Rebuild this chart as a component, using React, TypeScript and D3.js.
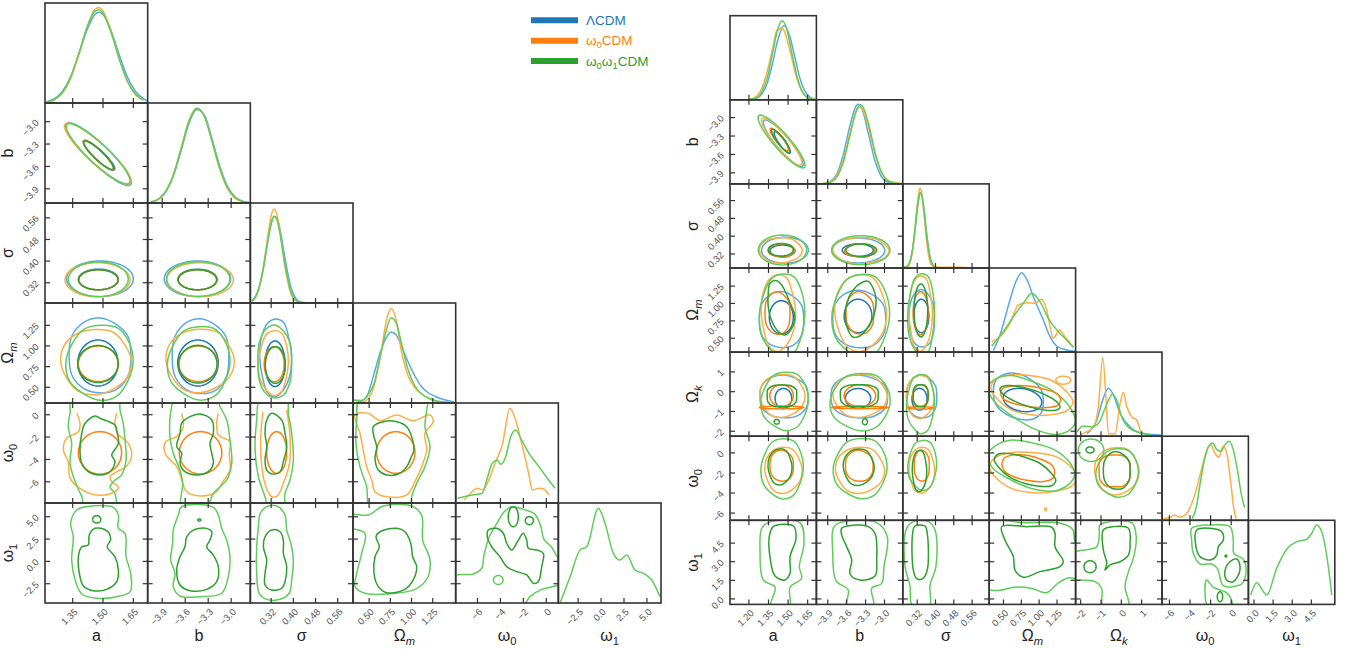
import React from "react";
import * as d3 from "d3";

type Pt = [number, number];
type Ell = [number, number, number, number, number]; // cx, cy, half-width x, half-width y, rho
interface Contour { r: number; c: number; m: number; lv: number; e?: Ell; w?: number[]; pts?: Pt[]; open?: boolean }
interface Marginal { p: number; m: number; pts: Pt[] }

// ---------- models ----------
const MODEL_NAMES = ["ΛCDM", "ω0CDM", "ω0ω1CDM"];
const DARK = ["#1f77b4", "#ff7f0e", "#2ca02c"];
const LIGHT = ["#58a8e6", "#ffae46", "#5fcd59"];

// ---------- left corner plot ----------
const leftParams = ["a", "b", "σ", "Ωm", "ω0", "ω1"];
const leftRanges: Pt[] = [[1.213, 1.721], [-4.09, -2.75], [0.245, 0.615], [0.31, 1.52], [-7.9, 1.05], [-4.66, 6.54]];
const leftTicks = [[1.35, 1.5, 1.65], [-3.9, -3.6, -3.3, -3.0], [0.32, 0.4, 0.48, 0.56], [0.5, 0.75, 1.0, 1.25], [-6, -4, -2, 0], [-2.5, 0, 2.5, 5.0]];
const leftFormats = [".2f", ".1f", ".2f", ".2f", "d", ".1f"];

const leftMarginals: Marginal[] = [
  { p: 0, m: 0, pts: [[1.22, 0.013], [1.26, 0.043], [1.3, 0.118], [1.34, 0.264], [1.38, 0.484], [1.42, 0.725], [1.46, 0.885], [1.48, 0.907], [1.5, 0.885], [1.54, 0.725], [1.58, 0.484], [1.62, 0.264], [1.66, 0.118], [1.7, 0.043], [1.72, 0.02]] },
  { p: 0, m: 1, pts: [[1.22, 0.008], [1.26, 0.032], [1.3, 0.099], [1.34, 0.245], [1.38, 0.483], [1.42, 0.755], [1.46, 0.938], [1.48, 0.956], [1.5, 0.92], [1.54, 0.718], [1.58, 0.443], [1.62, 0.217], [1.66, 0.085], [1.7, 0.026]] },
  { p: 0, m: 2, pts: [[1.22, 0.01], [1.26, 0.037], [1.3, 0.109], [1.34, 0.259], [1.38, 0.493], [1.42, 0.75], [1.46, 0.916], [1.48, 0.932], [1.5, 0.897], [1.54, 0.704], [1.58, 0.443], [1.62, 0.223], [1.66, 0.091], [1.7, 0.029]] },
  { p: 1, m: 0, pts: [[-4.05, 0.009], [-3.95, 0.036], [-3.85, 0.115], [-3.75, 0.28], [-3.65, 0.535], [-3.55, 0.8], [-3.45, 0.935], [-3.35, 0.88], [-3.25, 0.64], [-3.15, 0.37], [-3.05, 0.168], [-2.95, 0.06], [-2.85, 0.018], [-2.77, 0.006]] },
  { p: 1, m: 1, pts: [[-4.05, 0.008], [-3.95, 0.036], [-3.85, 0.118], [-3.75, 0.29], [-3.65, 0.56], [-3.55, 0.83], [-3.45, 0.95], [-3.35, 0.87], [-3.25, 0.615], [-3.15, 0.34], [-3.05, 0.145], [-2.95, 0.048], [-2.85, 0.012], [-2.77, 0.004]] },
  { p: 1, m: 2, pts: [[-4.05, 0.01], [-3.95, 0.04], [-3.85, 0.123], [-3.75, 0.293], [-3.65, 0.55], [-3.55, 0.815], [-3.45, 0.945], [-3.35, 0.865], [-3.25, 0.62], [-3.15, 0.352], [-3.05, 0.158], [-2.95, 0.056], [-2.85, 0.016], [-2.77, 0.005]] },
  { p: 2, m: 0, pts: [[0.25, 0.022], [0.27, 0.104], [0.29, 0.319], [0.31, 0.648], [0.32, 0.789], [0.33, 0.866], [0.34, 0.857], [0.35, 0.763], [0.37, 0.445], [0.39, 0.17], [0.41, 0.044], [0.43, 0.007], [0.47, 0], [0.55, 0], [0.61, 0]] },
  { p: 2, m: 1, pts: [[0.25, 0.014], [0.27, 0.087], [0.29, 0.323], [0.31, 0.71], [0.32, 0.87], [0.33, 0.939], [0.34, 0.893], [0.35, 0.746], [0.37, 0.357], [0.39, 0.1], [0.41, 0.018], [0.43, 0.002], [0.47, 0], [0.55, 0], [0.61, 0]] },
  { p: 2, m: 2, pts: [[0.25, 0.018], [0.27, 0.097], [0.29, 0.318], [0.31, 0.661], [0.32, 0.8], [0.33, 0.868], [0.34, 0.839], [0.35, 0.722], [0.37, 0.383], [0.39, 0.127], [0.41, 0.027], [0.43, 0.003], [0.47, 0], [0.55, 0], [0.61, 0]] },
  { p: 3, m: 0, pts: [[0.32, 0.003], [0.4, 0.015], [0.48, 0.08], [0.56, 0.3], [0.64, 0.53], [0.7, 0.65], [0.76, 0.71], [0.82, 0.68], [0.88, 0.57], [0.96, 0.41], [1.04, 0.27], [1.12, 0.16], [1.2, 0.1], [1.28, 0.065], [1.36, 0.04], [1.44, 0.022], [1.5, 0.012]] },
  { p: 3, m: 1, pts: [[0.32, 0.003], [0.4, 0.004], [0.48, 0.035], [0.56, 0.174], [0.64, 0.51], [0.7, 0.81], [0.76, 0.947], [0.82, 0.82], [0.88, 0.52], [0.96, 0.27], [1.04, 0.15], [1.12, 0.09], [1.2, 0.045], [1.28, 0.018], [1.36, 0.008], [1.44, 0.004], [1.5, 0.002]] },
  { p: 3, m: 2, pts: [[0.32, 0.03], [0.4, 0.025], [0.48, 0.07], [0.56, 0.2], [0.64, 0.5], [0.7, 0.72], [0.76, 0.853], [0.82, 0.8], [0.88, 0.6], [0.96, 0.33], [1.04, 0.17], [1.12, 0.09], [1.2, 0.05], [1.28, 0.025], [1.36, 0.012], [1.44, 0.006], [1.5, 0.003]] },
  { p: 4, m: 1, pts: [[-7.18, 0.03], [-6.74, 0.08], [-6.02, 0.147], [-5.58, 0.13], [-5.15, 0.197], [-4.41, 0.413], [-3.84, 0.58], [-3.17, 0.947], [-2.67, 0.83], [-2.15, 0.597], [-1.51, 0.28], [-1.23, 0.13], [-0.64, 0.147], [-0.2, 0.137], [0.23, 0.08]] },
  { p: 4, m: 2, pts: [[-7.76, 0.047], [-6.45, 0.08], [-5.58, 0.097], [-5.15, 0.247], [-4.71, 0.397], [-4.27, 0.43], [-3.98, 0.387], [-3.54, 0.463], [-3.1, 0.663], [-2.67, 0.73], [-2.23, 0.647], [-1.51, 0.497], [-0.64, 0.363], [0.09, 0.247], [0.76, 0.147]] },
  { p: 5, m: 2, pts: [[-4.47, 0], [-3.38, 0.263], [-2.29, 0.53], [-1.56, 0.563], [-0.3, 0.947], [0.43, 0.797], [1.34, 0.497], [2.07, 0.43], [2.8, 0.48], [3.7, 0.33], [4.61, 0.297], [5.52, 0.23], [6.43, 0.063]] },
];

const wA = [1.0, 1.04, 0.98, 1.0, 1.03, 1.05, 1.0, 1.04, 1.0, 0.97, 1.03, 1.05];
const wB = [1.03, 0.98, 1.02, 0.97, 1.0, 1.04, 1.02, 0.98, 1.03, 1.0, 0.97, 1.02];
const wC = [1.0, 1.02, 1.05, 0.98, 1.0, 0.97, 1.03, 1.05, 0.98, 1.02, 1.04, 0.98];

const leftContours: Contour[] = [
  // b vs a
  { r: 1, c: 0, m: 0, lv: 1, e: [1.478, -3.435, 0.163, 0.42, -0.9] },
  { r: 1, c: 0, m: 1, lv: 1, e: [1.474, -3.43, 0.165, 0.41, -0.9] },
  { r: 1, c: 0, m: 2, lv: 1, e: [1.476, -3.43, 0.158, 0.405, -0.9] },
  { r: 1, c: 0, m: 0, lv: 0, e: [1.48, -3.45, 0.078, 0.2, -0.9] },
  { r: 1, c: 0, m: 1, lv: 0, e: [1.478, -3.45, 0.075, 0.195, -0.9] },
  { r: 1, c: 0, m: 2, lv: 0, e: [1.478, -3.45, 0.073, 0.19, -0.9] },
  // sigma vs a, b
  { r: 2, c: 0, m: 0, lv: 1, e: [1.485, 0.3345, 0.165, 0.066, 0] },
  { r: 2, c: 0, m: 1, lv: 1, e: [1.473, 0.331, 0.161, 0.063, 0] },
  { r: 2, c: 0, m: 2, lv: 1, e: [1.477, 0.333, 0.148, 0.064, 0] },
  { r: 2, c: 0, m: 0, lv: 0, e: [1.477, 0.332, 0.099, 0.038, 0] },
  { r: 2, c: 0, m: 1, lv: 0, e: [1.477, 0.331, 0.098, 0.037, 0] },
  { r: 2, c: 0, m: 2, lv: 0, e: [1.477, 0.331, 0.097, 0.037, 0] },
  { r: 2, c: 1, m: 0, lv: 1, e: [-3.44, 0.3345, 0.433, 0.066, 0] },
  { r: 2, c: 1, m: 1, lv: 1, e: [-3.407, 0.331, 0.435, 0.063, 0] },
  { r: 2, c: 1, m: 2, lv: 1, e: [-3.43, 0.334, 0.413, 0.064, 0] },
  { r: 2, c: 1, m: 0, lv: 0, e: [-3.44, 0.332, 0.255, 0.038, 0] },
  { r: 2, c: 1, m: 1, lv: 0, e: [-3.44, 0.331, 0.252, 0.037, 0] },
  { r: 2, c: 1, m: 2, lv: 0, e: [-3.44, 0.331, 0.25, 0.037, 0] },
  // Omega_m vs a, b, sigma
  { r: 3, c: 0, m: 0, lv: 1, e: [1.485, 0.879, 0.153, 0.46, 0], w: wA },
  { r: 3, c: 0, m: 1, lv: 1, e: [1.465, 0.81, 0.171, 0.4, 0], w: wB },
  { r: 3, c: 0, m: 2, lv: 1, e: [1.485, 0.806, 0.164, 0.454, 0], w: wC },
  { r: 3, c: 0, m: 0, lv: 0, e: [1.475, 0.794, 0.1, 0.278, 0] },
  { r: 3, c: 0, m: 1, lv: 0, e: [1.477, 0.785, 0.099, 0.216, 0] },
  { r: 3, c: 0, m: 2, lv: 0, e: [1.475, 0.782, 0.1, 0.224, 0] },
  { r: 3, c: 1, m: 0, lv: 1, e: [-3.4, 0.87, 0.37, 0.46, 0], w: wA },
  { r: 3, c: 1, m: 1, lv: 1, e: [-3.407, 0.825, 0.435, 0.39, 0], w: wB },
  { r: 3, c: 1, m: 2, lv: 1, e: [-3.418, 0.798, 0.402, 0.444, 0], w: wC },
  { r: 3, c: 1, m: 0, lv: 0, e: [-3.433, 0.794, 0.265, 0.278, 0] },
  { r: 3, c: 1, m: 1, lv: 0, e: [-3.43, 0.785, 0.255, 0.216, 0] },
  { r: 3, c: 1, m: 2, lv: 0, e: [-3.435, 0.78, 0.25, 0.228, 0] },
  { r: 3, c: 2, m: 0, lv: 1, e: [0.336, 0.864, 0.056, 0.478, 0], w: wB },
  { r: 3, c: 2, m: 1, lv: 1, e: [0.329, 0.8, 0.053, 0.393, 0], w: wC },
  { r: 3, c: 2, m: 2, lv: 1, e: [0.333, 0.806, 0.061, 0.448, 0], w: wA },
  { r: 3, c: 2, m: 0, lv: 0, e: [0.334, 0.785, 0.036, 0.276, 0] },
  { r: 3, c: 2, m: 1, lv: 0, e: [0.331, 0.78, 0.036, 0.212, 0] },
  { r: 3, c: 2, m: 2, lv: 0, e: [0.335, 0.77, 0.036, 0.222, 0] },
  // omega_0 row
  { r: 4, c: 0, m: 1, lv: 0, e: [1.485, -3.41, 0.107, 1.9, 0] },
  { r: 4, c: 0, m: 2, lv: 0, pts: [[1.46, -0.11], [1.485, -0.32], [1.559, -0.92], [1.571, -1.66], [1.576, -2.56], [1.551, -3.31], [1.543, -3.6], [1.559, -4.2], [1.535, -5.1], [1.485, -5.39], [1.427, -5.1], [1.395, -4.35], [1.386, -3.16], [1.395, -1.66], [1.411, -0.76]] },
  { r: 4, c: 0, m: 1, lv: 1, open: true, pts: [[1.37, 0.13], [1.386, -0.76], [1.378, -1.52], [1.32, -2.11], [1.304, -3.16], [1.328, -4.2], [1.337, -5.69], [1.386, -6.58], [1.469, -7.18], [1.543, -7.03], [1.576, -6.49], [1.543, -5.99], [1.535, -5.55], [1.568, -5.1], [1.614, -4.65], [1.642, -3.6], [1.625, -2.56], [1.571, -1.66], [1.559, -0.76], [1.568, 0.13]] },
  { r: 4, c: 0, m: 2, lv: 1, pts: [[1.345, 1.32], [1.337, 0.13], [1.328, -1.07], [1.345, -2.56], [1.337, -4.35], [1.362, -5.99], [1.395, -7.34], [1.411, -8.23], [1.559, -8.23], [1.559, -7.03], [1.535, -6.49], [1.551, -5.99], [1.592, -5.39], [1.614, -4.05], [1.609, -2.26], [1.6, -0.76], [1.584, 0.43], [1.576, 1.32]] },
  { r: 4, c: 1, m: 1, lv: 0, e: [-3.4, -3.41, 0.277, 1.9, 0] },
  { r: 4, c: 1, m: 2, lv: 0, pts: [[-3.407, 0.07], [-3.254, -0.47], [-3.233, -1.66], [-3.277, -2.56], [-3.254, -3.45], [-3.233, -4.35], [-3.299, -5.1], [-3.45, -5.39], [-3.603, -5.1], [-3.668, -4.35], [-3.646, -3.45], [-3.711, -2.86], [-3.668, -1.66], [-3.646, -0.76], [-3.538, -0.17]] },
  { r: 4, c: 1, m: 1, lv: 1, open: true, pts: [[-3.646, 0.13], [-3.625, -1.07], [-3.711, -1.96], [-3.855, -2.41], [-3.864, -3.45], [-3.711, -4.65], [-3.646, -5.84], [-3.581, -6.89], [-3.385, -7.27], [-3.189, -6.89], [-3.124, -6.14], [-3.016, -4.95], [-3.025, -3.45], [-3.016, -2.41], [-3.168, -1.81], [-3.189, -0.76], [-3.168, 0.13]] },
  { r: 4, c: 1, m: 2, lv: 1, pts: [[-3.734, 1.32], [-3.79, 0.17], [-3.799, -1.96], [-3.756, -3.45], [-3.668, -4.95], [-3.633, -6.14], [-3.646, -8.23], [-3.32, -8.23], [-3.233, -7.03], [-3.059, -5.84], [-2.993, -4.35], [-3.016, -2.26], [-3.059, -0.47], [-3.146, 0.72], [-3.189, 1.32]] },
  { r: 4, c: 2, m: 1, lv: 0, e: [0.34, -3.38, 0.036, 1.86, 0] },
  { r: 4, c: 2, m: 2, lv: 0, pts: [[0.322, 0.13], [0.358, -0.47], [0.37, -1.66], [0.376, -2.86], [0.364, -4.2], [0.352, -5.1], [0.322, -5.3], [0.304, -4.95], [0.298, -4.05], [0.304, -2.86], [0.298, -1.66], [0.304, -0.47]] },
  { r: 4, c: 2, m: 1, lv: 1, open: true, pts: [[0.29, 0.27], [0.282, -2.56], [0.294, -5.84], [0.322, -7.34], [0.342, -7.27], [0.364, -6.14], [0.386, -4.35], [0.388, -1.96], [0.376, 0.43]] },
  { r: 4, c: 2, m: 2, lv: 1, pts: [[0.28, 1.32], [0.268, -0.47], [0.262, -3.16], [0.274, -5.55], [0.298, -7.34], [0.31, -8.23], [0.364, -8.23], [0.37, -7.03], [0.388, -5.84], [0.4, -4.05], [0.394, -1.66], [0.382, 0.13], [0.376, 1.32]] },
  { r: 4, c: 3, m: 1, lv: 0, e: [0.814, -3.38, 0.226, 1.86, 0] },
  { r: 4, c: 3, m: 2, lv: 0, pts: [[0.549, -1.07], [0.667, -0.62], [0.825, -0.62], [0.943, -1.07], [1.001, -1.96], [1.028, -3.16], [0.99, -3.9], [0.943, -4.65], [0.864, -5.24], [0.707, -5.39], [0.608, -4.95], [0.569, -3.9], [0.589, -2.86], [0.557, -1.96]] },
  { r: 4, c: 3, m: 1, lv: 1, pts: [[0.334, -0.02], [0.49, 0.13], [0.628, -0.53], [0.825, -0.02], [1.02, -0.53], [1.217, -0.02], [1.256, -0.62], [1.158, -1.66], [1.178, -3.16], [1.119, -4.65], [1.04, -5.99], [0.943, -7.18], [0.707, -7.34], [0.569, -6.89], [0.53, -5.84], [0.471, -4.65], [0.431, -3.16], [0.392, -1.66]] },
  { r: 4, c: 3, m: 2, lv: 1, pts: [[0.392, 1.32], [0.354, -0.47], [0.345, -2.56], [0.392, -4.65], [0.471, -6.44], [0.51, -8.23], [0.981, -8.23], [1.001, -7.34], [1.06, -6.14], [1.158, -4.65], [1.217, -2.86], [1.158, -1.07], [1.178, 0.43], [1.178, 1.32]] },
  // omega_1 row
  { r: 5, c: 0, m: 2, lv: 0, pts: [[1.46, 3.71], [1.518, 3.44], [1.538, 2.47], [1.521, 1.64], [1.559, 0.52], [1.576, -0.96], [1.568, -2.27], [1.518, -3.13], [1.452, -3.28], [1.403, -2.76], [1.383, -1.33], [1.378, 0.52], [1.395, 1.64], [1.427, 1.83], [1.432, 2.95]] },
  { r: 5, c: 0, m: 2, lv: 0, e: [1.469, 4.71, 0.02, 0.41, 0] },
  { r: 5, c: 0, m: 2, lv: 1, pts: [[1.419, 6.12], [1.551, 6.06], [1.576, 5.19], [1.576, 3.71], [1.609, 3.14], [1.614, 0.52], [1.637, -1.33], [1.634, -3.39], [1.568, -3.95], [1.469, -4.13], [1.395, -3.65], [1.362, -2.08], [1.345, 0.16], [1.353, 2.76], [1.34, 4.27], [1.37, 5.75]] },
  { r: 5, c: 1, m: 2, lv: 0, pts: [[-3.495, 3.51], [-3.32, 3.7], [-3.254, 3.32], [-3.277, 2.39], [-3.32, 1.64], [-3.233, 0.71], [-3.168, -0.59], [-3.189, -2.27], [-3.32, -3.13], [-3.538, -3.28], [-3.668, -2.64], [-3.711, -0.96], [-3.668, 0.52], [-3.603, 1.64], [-3.581, 2.76]] },
  { r: 5, c: 1, m: 2, lv: 0, e: [-3.416, 4.63, 0.02, 0.12, 0] },
  { r: 5, c: 1, m: 2, lv: 1, pts: [[-3.646, 6.12], [-3.233, 6.06], [-3.168, 5.19], [-3.124, 3.71], [-3.059, 2.39], [-3.016, 0.52], [-3.038, -1.71], [-3.124, -3.57], [-3.407, -3.95], [-3.668, -3.88], [-3.756, -2.83], [-3.734, -1.33], [-3.79, 0.16], [-3.764, 2.03], [-3.756, 3.51], [-3.69, 5.19]] },
  { r: 5, c: 2, m: 2, lv: 0, pts: [[0.322, 3.51], [0.352, 3.32], [0.364, 2.39], [0.364, 0.9], [0.376, -0.59], [0.37, -2.27], [0.358, -3.01], [0.322, -3.2], [0.298, -2.64], [0.298, -1.33], [0.304, 0.16], [0.292, 1.64], [0.298, 2.76]] },
  { r: 5, c: 2, m: 2, lv: 1, pts: [[0.31, 6.2], [0.346, 6.12], [0.37, 5.19], [0.376, 3.51], [0.391, 2.03], [0.4, 0.16], [0.394, -2.08], [0.385, -3.57], [0.352, -4.25], [0.304, -4.25], [0.277, -3.57], [0.268, -1.33], [0.268, 1.64], [0.274, 3.88], [0.282, 5.45]] },
  { r: 5, c: 3, m: 2, lv: 0, pts: [[0.628, 3.32], [0.825, 3.7], [0.922, 3.32], [0.99, 2.03], [1.013, 0.52], [1.06, -0.59], [1.02, -2.08], [0.922, -3.13], [0.707, -3.51], [0.608, -2.83], [0.557, -1.33], [0.569, 0.52], [0.62, 1.64], [0.581, 2.76]] },
  { r: 5, c: 3, m: 2, lv: 1, pts: [[0.275, 5.19], [0.49, 5.19], [0.667, 6.2], [1.001, 6.2], [1.119, 5.19], [1.131, 2.39], [1.217, 0.16], [1.185, -1.89], [1.04, -3.13], [0.707, -3.65], [0.451, -3.57], [0.334, -2.83], [0.354, -1.33], [0.412, 0.9], [0.451, 3.14], [0.275, 3.88]] },
  { r: 5, c: 4, m: 2, lv: 0, pts: [[-5.06, 3.51], [-4.33, 3.7], [-3.75, 3.15], [-3.45, 2.03], [-3.02, 1.27], [-2.44, 2.39], [-2.01, 3.15], [-1.71, 2.39], [-1.57, 1.47], [-0.84, 1.27], [-0.26, 0.91], [-0.4, -0.59], [-0.7, -2.27], [-1.13, -2.45], [-1.71, -1.52], [-2.58, -1.15], [-3.45, -0.59], [-4.04, 0.52], [-4.76, 1.64], [-5.14, 2.76]] },
  { r: 5, c: 4, m: 2, lv: 0, e: [-2.88, 5.0, 0.44, 1.12, 0] },
  { r: 5, c: 4, m: 2, lv: 0, e: [-1.48, 4.56, 0.35, 0.45, 0] },
  { r: 5, c: 4, m: 2, lv: 1, pts: [[-8.11, -1.71], [-6.37, -1.41], [-5.63, -0.77], [-5.43, 0.72], [-4.97, 2.76], [-4.27, 4.33], [-3.69, 5.53], [-3.02, 6.12], [-2.01, 5.83], [-0.99, 5.27], [-0.49, 3.96], [-0.2, 2.47], [0.47, 1.58], [0.96, 0.52], [1.63, -0.21], [1.63, -2.27], [0.76, -2.76], [-0.4, -3.13], [-1.42, -3.95], [-2.15, -5.07], [-8.11, -5.81]] },
  { r: 5, c: 4, m: 2, lv: 1, e: [-4.19, -2.08, 0.42, 0.5, 0] },
];

// ---------- right corner plot ----------
const rightParams = ["a", "b", "σ", "Ωm", "Ωk", "ω0", "ω1"];
const rightRanges: Pt[] = [[1.055, 1.717], [-4.08, -2.71], [0.257, 0.635], [0.3, 1.51], [-2.25, 2.0], [-6.72, 1.67], [-0.44, 6.34]];
const rightTicks = [[1.2, 1.35, 1.5, 1.65], [-3.9, -3.6, -3.3, -3.0], [0.32, 0.4, 0.48, 0.56], [0.5, 0.75, 1.0, 1.25], [-2, -1, 0, 1], [-6, -4, -2, 0], [0, 1.5, 3.0, 4.5]];
const rightFormats = [".2f", ".1f", ".2f", ".2f", "d", "d", ".1f"];

const rightMarginals: Marginal[] = [
  { p: 0, m: 0, pts: [[1.2, 0], [1.26, 0.02], [1.3, 0.07], [1.34, 0.197], [1.38, 0.428], [1.42, 0.704], [1.47, 0.88], [1.51, 0.77], [1.55, 0.52], [1.59, 0.26], [1.63, 0.1], [1.67, 0.03], [1.71, 0.005]] },
  { p: 0, m: 1, pts: [[1.2, 0.004], [1.26, 0.045], [1.3, 0.14], [1.34, 0.34], [1.38, 0.6], [1.413, 0.82], [1.43, 0.835], [1.451, 0.86], [1.48, 0.78], [1.52, 0.55], [1.56, 0.29], [1.6, 0.12], [1.64, 0.04], [1.68, 0.01], [1.71, 0.003]] },
  { p: 0, m: 2, pts: [[1.2, 0.002], [1.26, 0.025], [1.3, 0.1], [1.34, 0.261], [1.38, 0.545], [1.42, 0.835], [1.455, 0.94], [1.49, 0.84], [1.53, 0.55], [1.57, 0.27], [1.61, 0.095], [1.65, 0.025], [1.7, 0.004]] },
  { p: 1, m: 0, pts: [[-4.05, 0.001], [-3.95, 0.006], [-3.85, 0.034], [-3.75, 0.13], [-3.65, 0.36], [-3.55, 0.687], [-3.45, 0.927], [-3.416, 0.946], [-3.35, 0.876], [-3.25, 0.58], [-3.15, 0.272], [-3.05, 0.088], [-2.95, 0.02], [-2.85, 0.003], [-2.75, 0]] },
  { p: 1, m: 1, pts: [[-4.05, 0.001], [-3.95, 0.005], [-3.85, 0.029], [-3.75, 0.109], [-3.65, 0.3], [-3.55, 0.6], [-3.45, 0.86], [-3.39, 0.91], [-3.35, 0.886], [-3.25, 0.661], [-3.15, 0.356], [-3.05, 0.137], [-2.95, 0.045], [-2.85, 0.02], [-2.75, 0.008]] },
  { p: 1, m: 2, pts: [[-4.05, 0], [-3.95, 0.004], [-3.85, 0.021], [-3.75, 0.087], [-3.65, 0.266], [-3.55, 0.57], [-3.45, 0.864], [-3.38, 0.94], [-3.35, 0.925], [-3.25, 0.704], [-3.15, 0.377], [-3.05, 0.142], [-2.95, 0.038], [-2.85, 0.008], [-2.75, 0.001]] },
  { p: 2, m: 0, pts: [[0.26, 0.002], [0.28, 0.029], [0.3, 0.223], [0.31, 0.441], [0.32, 0.696], [0.33, 0.872], [0.335, 0.897], [0.34, 0.872], [0.35, 0.696], [0.36, 0.441], [0.38, 0.091], [0.4, 0.007], [0.42, 0], [0.62, 0]] },
  { p: 2, m: 1, pts: [[0.26, 0], [0.28, 0.019], [0.3, 0.208], [0.31, 0.455], [0.32, 0.749], [0.33, 0.935], [0.333, 0.947], [0.34, 0.885], [0.35, 0.637], [0.36, 0.346], [0.38, 0.045], [0.4, 0.012], [0.45, 0.008], [0.5, 0.008], [0.53, 0.006], [0.56, 0], [0.62, 0]] },
  { p: 2, m: 2, pts: [[0.26, 0.002], [0.28, 0.03], [0.3, 0.235], [0.31, 0.455], [0.32, 0.7], [0.33, 0.875], [0.334, 0.897], [0.34, 0.86], [0.35, 0.68], [0.36, 0.42], [0.38, 0.085], [0.4, 0.006], [0.42, 0], [0.62, 0]] },
  { p: 3, m: 0, pts: [[0.357, 0.017], [0.451, 0.203], [0.591, 0.62], [0.67, 0.83], [0.755, 0.944], [0.84, 0.84], [0.918, 0.659], [1.058, 0.382], [1.152, 0.183], [1.245, 0.073], [1.385, 0.025], [1.5, 0.01]] },
  { p: 3, m: 1, pts: [[0.335, 0.124], [0.451, 0.183], [0.591, 0.342], [0.708, 0.56], [0.825, 0.587], [0.941, 0.58], [1.035, 0.627], [1.105, 0.5], [1.198, 0.164], [1.282, 0.263], [1.362, 0.183], [1.478, 0.057]] },
  { p: 3, m: 2, pts: [[0.335, 0.073], [0.498, 0.243], [0.638, 0.421], [0.778, 0.58], [0.895, 0.699], [1.011, 0.6], [1.128, 0.402], [1.268, 0.243], [1.385, 0.144], [1.478, 0.057]] },
  { p: 4, m: 0, pts: [[-1.7, 0.03], [-1.21, 0.19], [-0.89, 0.45], [-0.64, 0.57], [-0.39, 0.49], [-0.06, 0.27], [0.43, 0.11], [0.92, 0.04], [1.58, 0.02], [1.95, 0.01]] },
  { p: 4, m: 1, pts: [[-2.03, 0.02], [-1.38, 0.11], [-1.13, 0.35], [-0.915, 0.94], [-0.75, 0.43], [-0.64, 0.03], [-0.31, 0.03], [-0.06, 0.39], [0.1, 0.52], [0.27, 0.35], [0.51, 0.23], [0.76, 0.19], [0.96, 0.03]] },
  { p: 4, m: 2, pts: [[-2.2, 0.05], [-1.87, 0.12], [-1.46, 0.11], [-1.13, 0.15], [-0.8, 0.33], [-0.44, 0.5], [-0.23, 0.43], [0.02, 0.23], [0.43, 0.09], [0.92, 0.04], [1.5, 0.01]] },
  { p: 5, m: 1, pts: [[-6.6, 0.02], [-6.0, 0.03], [-5.5, 0.06], [-5.0, 0.04], [-4.5, 0.06], [-4.0, 0.15], [-3.5, 0.32], [-3.0, 0.55], [-2.5, 0.78], [-2.0, 0.9], [-1.6, 0.8], [-1.2, 0.75], [-0.8, 0.88], [-0.4, 0.78], [0, 0.4], [0.3, 0.1], [0.5, 0.02]] },
  { p: 5, m: 2, pts: [[-3.8, 0.02], [-3.4, 0.15], [-3.0, 0.45], [-2.6, 0.72], [-2.2, 0.88], [-1.8, 0.92], [-1.4, 0.84], [-1.0, 0.82], [-0.6, 0.9], [-0.2, 0.94], [0.2, 0.84], [0.6, 0.6], [1.0, 0.3], [1.3, 0.15]] },
  { p: 6, m: 2, pts: [[-0.26, 0.112], [0.21, 0.258], [1.0, 0.112], [1.78, 0.43], [2.57, 0.656], [3.35, 0.747], [4.14, 0.775], [4.53, 0.846], [4.92, 0.945], [5.31, 0.866], [5.83, 0.45], [6.1, 0.112]] },
];

const wSq = [1.0, 1.12, 1.1, 1.0, 1.1, 1.12, 1.0, 1.1, 1.12, 1.0, 1.12, 1.1];

const rightContours: Contour[] = [
  // b vs a
  { r: 1, c: 0, m: 0, lv: 1, e: [1.463, -3.418, 0.153, 0.38, -0.9] },
  { r: 1, c: 0, m: 1, lv: 1, e: [1.451, -3.39, 0.155, 0.385, -0.9] },
  { r: 1, c: 0, m: 2, lv: 1, e: [1.45, -3.389, 0.18, 0.43, -0.9] },
  { r: 1, c: 0, m: 0, lv: 0, e: [1.455, -3.405, 0.062, 0.176, -0.88] },
  { r: 1, c: 0, m: 1, lv: 0, e: [1.432, -3.357, 0.07, 0.182, -0.88] },
  { r: 1, c: 0, m: 2, lv: 0, e: [1.444, -3.38, 0.07, 0.19, -0.88] },
  // sigma row
  { r: 2, c: 0, m: 0, lv: 1, e: [1.476, 0.337, 0.179, 0.058, 0] },
  { r: 2, c: 0, m: 1, lv: 1, e: [1.444, 0.337, 0.16, 0.058, 0], w: wB },
  { r: 2, c: 0, m: 2, lv: 1, e: [1.457, 0.338, 0.185, 0.067, 0] },
  { r: 2, c: 0, m: 0, lv: 0, e: [1.457, 0.334, 0.096, 0.026, 0] },
  { r: 2, c: 0, m: 1, lv: 0, e: [1.45, 0.336, 0.1, 0.03, 0], w: wC },
  { r: 2, c: 0, m: 2, lv: 0, e: [1.444, 0.339, 0.096, 0.028, 0] },
  { r: 2, c: 1, m: 0, lv: 1, e: [-3.416, 0.336, 0.42, 0.056, 0] },
  { r: 2, c: 1, m: 1, lv: 1, e: [-3.376, 0.336, 0.436, 0.06, 0], w: wB },
  { r: 2, c: 1, m: 2, lv: 1, e: [-3.376, 0.337, 0.462, 0.065, 0] },
  { r: 2, c: 1, m: 0, lv: 0, e: [-3.424, 0.337, 0.246, 0.028, 0] },
  { r: 2, c: 1, m: 1, lv: 0, e: [-3.389, 0.336, 0.238, 0.03, 0], w: wC },
  { r: 2, c: 1, m: 2, lv: 0, e: [-3.368, 0.337, 0.243, 0.028, 0] },
  // Omega_m row
  { r: 3, c: 0, m: 0, lv: 1, e: [1.45, 0.762, 0.17, 0.41, 0], w: wA },
  { r: 3, c: 0, m: 1, lv: 1, e: [1.425, 0.87, 0.128, 0.56, 0], w: wB },
  { r: 3, c: 0, m: 2, lv: 1, e: [1.457, 0.834, 0.172, 0.6, 0], w: wC },
  { r: 3, c: 0, m: 0, lv: 0, e: [1.448, 0.8, 0.092, 0.24, 0] },
  { r: 3, c: 0, m: 1, lv: 0, e: [1.419, 0.858, 0.096, 0.31, 0], w: wA },
  { r: 3, c: 0, m: 2, lv: 0, pts: [[1.362, 1.29], [1.413, 1.327], [1.451, 1.265], [1.49, 1.122], [1.528, 0.953], [1.553, 0.809], [1.52, 0.618], [1.476, 0.546], [1.425, 0.594], [1.367, 0.786], [1.348, 0.953], [1.348, 1.146]] },
  { r: 3, c: 1, m: 0, lv: 1, e: [-3.4, 0.77, 0.42, 0.42, 0], w: wA },
  { r: 3, c: 1, m: 1, lv: 1, e: [-3.38, 0.87, 0.4, 0.56, 0], w: wB },
  { r: 3, c: 1, m: 2, lv: 1, e: [-3.37, 0.83, 0.45, 0.6, 0], w: wC },
  { r: 3, c: 1, m: 0, lv: 0, e: [-3.42, 0.82, 0.22, 0.24, 0] },
  { r: 3, c: 1, m: 1, lv: 0, e: [-3.39, 0.86, 0.22, 0.31, 0], w: wA },
  { r: 3, c: 1, m: 2, lv: 0, e: [-3.38, 0.92, 0.24, 0.4, 0.3], w: wB },
  { r: 3, c: 2, m: 0, lv: 1, e: [0.34, 0.78, 0.055, 0.42, 0], w: wA },
  { r: 3, c: 2, m: 1, lv: 1, e: [0.335, 0.86, 0.05, 0.55, 0], w: wB },
  { r: 3, c: 2, m: 2, lv: 1, e: [0.338, 0.84, 0.058, 0.6, 0], w: wC },
  { r: 3, c: 2, m: 0, lv: 0, e: [0.338, 0.82, 0.033, 0.24, 0] },
  { r: 3, c: 2, m: 1, lv: 0, e: [0.335, 0.86, 0.033, 0.31, 0] },
  { r: 3, c: 2, m: 2, lv: 0, e: [0.336, 0.9, 0.03, 0.38, 0] },
  // Omega_k row
  { r: 4, c: 0, m: 0, lv: 1, e: [1.469, -0.255, 0.185, 1.1, 0], w: wA },
  { r: 4, c: 0, m: 1, lv: 1, e: [1.455, -0.2, 0.17, 1.1, 0], w: wB },
  { r: 4, c: 0, m: 2, lv: 1, e: [1.476, -0.46, 0.179, 1.47, 0], w: wC },
  { r: 4, c: 0, m: 0, lv: 0, e: [1.464, -0.336, 0.064, 0.5, 0] },
  { r: 4, c: 0, m: 1, lv: 0, e: [1.45, -0.2, 0.09, 0.55, 0] },
  { r: 4, c: 0, m: 1, lv: 0, e: [1.45, -0.8, 0.17, 0.07, 0] },
  { r: 4, c: 0, m: 2, lv: 0, e: [1.453, -0.21, 0.113, 0.55, 0], w: wSq },
  { r: 4, c: 0, m: 2, lv: 0, e: [1.413, -1.52, 0.02, 0.12, 0] },
  { r: 4, c: 1, m: 0, lv: 1, e: [-3.4, -0.26, 0.45, 1.1, 0], w: wA },
  { r: 4, c: 1, m: 1, lv: 1, e: [-3.39, -0.2, 0.42, 1.1, 0], w: wB },
  { r: 4, c: 1, m: 2, lv: 1, e: [-3.38, -0.5, 0.47, 1.45, 0], w: wC },
  { r: 4, c: 1, m: 0, lv: 0, e: [-3.42, -0.34, 0.2, 0.5, 0] },
  { r: 4, c: 1, m: 1, lv: 0, e: [-3.39, -0.2, 0.25, 0.55, 0] },
  { r: 4, c: 1, m: 1, lv: 0, e: [-3.39, -0.8, 0.45, 0.06, 0] },
  { r: 4, c: 1, m: 2, lv: 0, e: [-3.4, -0.2, 0.3, 0.55, 0], w: wSq },
  { r: 4, c: 1, m: 2, lv: 0, e: [-3.31, -1.52, 0.04, 0.15, 0] },
  { r: 4, c: 2, m: 0, lv: 1, e: [0.34, -0.26, 0.066, 1.1, 0], w: wA },
  { r: 4, c: 2, m: 1, lv: 1, e: [0.333, -0.25, 0.06, 1.1, 0], w: wB },
  { r: 4, c: 2, m: 2, lv: 1, e: [0.335, -0.6, 0.06, 1.5, 0], w: wC },
  { r: 4, c: 2, m: 0, lv: 0, e: [0.33, -0.38, 0.033, 0.55, 0] },
  { r: 4, c: 2, m: 1, lv: 0, e: [0.335, -0.2, 0.035, 0.55, 0] },
  { r: 4, c: 2, m: 1, lv: 0, e: [0.335, -0.82, 0.055, 0.06, 0] },
  { r: 4, c: 2, m: 2, lv: 0, e: [0.335, -0.2, 0.032, 0.55, 0], w: wSq },
  { r: 4, c: 3, m: 0, lv: 1, e: [0.708, -0.255, 0.35, 1.18, -0.2], w: wA },
  { r: 4, c: 3, m: 1, lv: 1, e: [0.895, -0.17, 0.56, 1.05, -0.3], w: wB },
  { r: 4, c: 3, m: 1, lv: 1, e: [1.338, 0.58, 0.105, 0.2, 0] },
  { r: 4, c: 3, m: 2, lv: 1, e: [0.906, -0.64, 0.6, 1.47, -0.6], w: wC },
  { r: 4, c: 3, m: 0, lv: 0, e: [0.766, -0.42, 0.27, 0.59, -0.2] },
  { r: 4, c: 3, m: 1, lv: 0, e: [0.88, -0.25, 0.42, 0.55, -0.3], w: wA },
  { r: 4, c: 3, m: 2, lv: 0, e: [0.871, -0.32, 0.42, 0.63, -0.7] },
  // omega_0 row
  { r: 5, c: 0, m: 2, lv: 1, e: [1.457, -1.53, 0.16, 3.0, 0], w: wC },
  { r: 5, c: 0, m: 1, lv: 1, e: [1.464, -1.7, 0.14, 2.33, 0], w: wB },
  { r: 5, c: 0, m: 1, lv: 0, e: [1.451, -1.28, 0.09, 1.58, 0], w: wA },
  { r: 5, c: 0, m: 2, lv: 0, e: [1.438, -1.37, 0.09, 1.83, 0], w: wB },
  { r: 5, c: 1, m: 2, lv: 1, e: [-3.38, -1.5, 0.42, 3.0, 0], w: wC },
  { r: 5, c: 1, m: 1, lv: 1, e: [-3.39, -1.7, 0.38, 2.33, 0], w: wB },
  { r: 5, c: 1, m: 1, lv: 0, e: [-3.4, -1.3, 0.22, 1.58, 0], w: wA },
  { r: 5, c: 1, m: 2, lv: 0, e: [-3.41, -1.4, 0.24, 1.85, 0], w: wB },
  { r: 5, c: 2, m: 2, lv: 1, e: [0.343, -1.2, 0.062, 2.5, 0], w: wC },
  { r: 5, c: 2, m: 1, lv: 1, e: [0.34, -1.7, 0.055, 2.33, 0], w: wB },
  { r: 5, c: 2, m: 1, lv: 0, e: [0.34, -1.28, 0.033, 1.58, 0], w: wA },
  { r: 5, c: 2, m: 2, lv: 0, e: [0.33, -1.78, 0.031, 2.1, 0], w: wB },
  { r: 5, c: 3, m: 2, lv: 1, e: [0.895, -1.22, 0.6, 2.5, -0.4], w: wC },
  { r: 5, c: 3, m: 1, lv: 1, e: [0.918, -1.93, 0.6, 2.08, -0.2], w: wB },
  { r: 5, c: 3, m: 1, lv: 1, e: [1.09, -5.62, 0.015, 0.12, 0] },
  { r: 5, c: 3, m: 1, lv: 0, e: [0.848, -1.53, 0.37, 1.33, -0.3], w: wA },
  { r: 5, c: 3, m: 2, lv: 0, e: [0.8, -1.72, 0.42, 1.66, -0.6], w: wB },
  { r: 5, c: 4, m: 2, lv: 1, e: [-0.19, -1.95, 1.03, 2.41, 0], w: wC },
  { r: 5, c: 4, m: 2, lv: 1, e: [-1.49, 0.27, 0.63, 1.12, 0] },
  { r: 5, c: 4, m: 1, lv: 1, e: [-0.225, -1.78, 1.07, 2.4, 0], w: wB },
  { r: 5, c: 4, m: 1, lv: 0, e: [-0.33, -1.78, 0.76, 1.58, 0], w: wSq },
  { r: 5, c: 4, m: 2, lv: 0, e: [-0.225, -1.78, 0.66, 1.91, 0], w: wA },
  { r: 5, c: 4, m: 2, lv: 0, e: [-1.54, 0.3, 0.2, 0.3, 0] },
  // omega_1 row
  { r: 6, c: 0, m: 2, lv: 1, pts: [[1.348, 6.15], [1.591, 6.15], [1.622, 4.49], [1.586, 2.6], [1.604, 1.66], [1.515, 0.94], [1.51, -0.63], [1.367, -0.63], [1.4, 0.94], [1.31, 1.53], [1.285, 3.95], [1.298, 5.7]] },
  { r: 6, c: 0, m: 2, lv: 0, pts: [[1.387, 5.83], [1.54, 5.88], [1.561, 4.89], [1.515, 3.41], [1.515, 2.07], [1.476, 1.53], [1.4, 1.85], [1.361, 3.41], [1.356, 5.02]] },
  { r: 6, c: 1, m: 2, lv: 1, pts: [[-3.706, 6.15], [-3.124, 6.15], [-2.956, 5.02], [-3.009, 2.6], [-3.045, 1.26], [-3.204, 0.86], [-3.178, -0.63], [-3.6, -0.63], [-3.574, 0.72], [-3.769, 1.47], [-3.822, 3.95], [-3.812, 5.7]] },
  { r: 6, c: 1, m: 2, lv: 0, pts: [[-3.679, 5.7], [-3.283, 5.88], [-3.151, 5.29], [-3.124, 3.14], [-3.151, 1.85], [-3.389, 1.53], [-3.547, 2.01], [-3.52, 3.14], [-3.6, 4.21], [-3.679, 5.16]] },
  { r: 6, c: 2, m: 2, lv: 1, pts: [[0.303, 6.23], [0.369, 6.23], [0.398, 5.56], [0.402, 2.6], [0.376, 1.12], [0.373, -0.63], [0.3, -0.63], [0.288, 1.12], [0.267, 2.6], [0.271, 5.56]] },
  { r: 6, c: 2, m: 2, lv: 0, pts: [[0.31, 5.88], [0.354, 5.88], [0.364, 5.29], [0.364, 2.33], [0.344, 1.63], [0.318, 1.63], [0.303, 2.33], [0.3, 5.29]] },
  { r: 6, c: 3, m: 2, lv: 1, pts: [[0.25, 6.1], [0.8, 6.15], [1.3, 6.1], [1.47, 5.6], [1.5, 4.6], [1.6, 3.8], [1.6, 1.6], [1.42, 1.7], [1.27, 1.3], [1.1, 0.5], [0.9, 0.85], [0.65, 0.95], [0.45, 0.7], [0.25, 0.9]] },
  { r: 6, c: 3, m: 2, lv: 0, pts: [[0.475, 5.83], [0.825, 5.83], [1.175, 5.78], [1.222, 5.29], [1.222, 4.21], [1.338, 3.0], [1.292, 2.6], [1.011, 2.2], [0.778, 1.75], [0.661, 2.33], [0.638, 3.41], [0.521, 4.75]] },
  { r: 6, c: 4, m: 2, lv: 1, pts: [[-1.05, 5.96], [0.51, 6.15], [0.73, 5.02], [0.59, 3.28], [0.35, 2.2], [0.18, 1.0], [0.35, -0.63], [-0.89, -0.63], [-0.97, 0.86], [-1.29, 1.39], [-2.03, 1.53], [-2.35, 1.5], [-2.35, 3.68], [-1.79, 3.95], [-1.21, 4.21], [-1.08, 5.29]] },
  { r: 6, c: 4, m: 2, lv: 0, pts: [[-0.886, 5.56], [-0.393, 5.83], [0.346, 5.7], [0.43, 4.49], [0.346, 3.54], [-0.063, 3.0], [-0.555, 2.74], [-0.802, 2.33], [-0.718, 2.87], [-0.886, 3.95]] },
  { r: 6, c: 4, m: 2, lv: 0, e: [-1.54, 2.6, 0.3, 0.48, 0] },
  { r: 6, c: 5, m: 2, lv: 1, pts: [[-3.84, 5.7], [-1.74, 5.96], [-0.12, 5.83], [0.2, 4.75], [0.27, 3.68], [1.18, 3.2], [1.44, 2.2], [1.02, 1.2], [0.37, 1.04], [-0.12, 0.94], [-0.83, 1.12], [-1.35, 2.47], [-1.89, 2.82], [-3.03, 2.82], [-3.68, 3.68], [-3.84, 4.75]] },
  { r: 6, c: 5, m: 2, lv: 1, pts: [[-2.38, 1.53], [-1.74, 0.94], [-0.6, 0.58], [-0.12, 0.18], [0.04, -0.63], [-2.22, -0.63], [-2.54, 0.46]] },
  { r: 6, c: 5, m: 2, lv: 0, pts: [[-3.35, 5.56], [-2.06, 5.7], [-0.92, 5.42], [-0.77, 4.75], [-1.25, 4.21], [-1.41, 3.54], [-2.06, 3.14], [-3.03, 3.41], [-3.42, 4.21]] },
  { r: 6, c: 5, m: 2, lv: 0, pts: [[-0.12, 3.0], [0.59, 3.2], [0.85, 2.33], [0.2, 1.39], [-0.44, 1.53], [-0.6, 2.28]] },
  { r: 6, c: 5, m: 2, lv: 0, e: [-1.09, 0.18, 0.26, 0.4, 0] },
  { r: 6, c: 5, m: 2, lv: 0, e: [-0.51, 3.46, 0.08, 0.08, 0] },
];

// ---------- drawing ----------
interface Geo { x0: number; y0: number; cw: number; ch: number; ylab: number }
const FONT = "'Liberation Sans', Arial, Helvetica, sans-serif";
const FRAME = "#333";

function splitName(name: string): [string, string | null, boolean] {
  if (name.length === 2) return [name[0], name[1], /[a-z]/.test(name[1])];
  return [name, null, false];
}

function NameText(props: { name: string; size: number; [k: string]: any }) {
  const { name, size, ...rest } = props;
  const [base, sub, italic] = splitName(name);
  return (
    <text {...rest} fontSize={size} fontFamily={FONT}>
      {base}
      {sub && (
        <tspan fontSize={size * 0.7} dy={size * 0.28} fontStyle={italic ? "italic" : "normal"}>{sub}</tspan>
      )}
    </text>
  );
}

// Splits a model name such as "ω0ω1CDM" into glyph runs with subscript digits.
function modelRuns(name: string): { t: string; sub: boolean }[] {
  const out: { t: string; sub: boolean }[] = [];
  for (const ch of name) {
    const sub = /[01]/.test(ch);
    const last = out[out.length - 1];
    if (last && last.sub === sub) last.t += ch;
    else out.push({ t: ch, sub });
  }
  return out;
}

function contourPath(c: Contour, sx: d3.ScaleLinear<number, number>, sy: d3.ScaleLinear<number, number>): string {
  let pts: Pt[];
  let curve: d3.CurveFactory;
  if (c.pts) {
    pts = c.pts;
    curve = c.open ? d3.curveCatmullRom.alpha(0.5) : d3.curveCatmullRomClosed.alpha(0.5);
  } else {
    const [cx, cy, hx, hy, rho] = c.e as Ell;
    const s = Math.sqrt(1 - rho * rho);
    const k = c.w ? c.w.length : 72;
    pts = d3.range(k).map((i) => {
      const t = (2 * Math.PI * i) / k;
      const f = c.w ? c.w[i] : 1;
      return [cx + f * hx * Math.cos(t), cy + f * hy * (rho * Math.cos(t) + s * Math.sin(t))] as Pt;
    });
    curve = c.w ? d3.curveCatmullRomClosed.alpha(0.5) : d3.curveLinearClosed;
  }
  return d3.line<Pt>().x((p) => sx(p[0])).y((p) => sy(p[1])).curve(curve)(pts) || "";
}

function Corner(props: {
  id: string; geo: Geo; params: string[]; ranges: Pt[]; ticks: number[][]; formats: string[];
  marginals: Marginal[]; contours: Contour[];
}) {
  const { id, geo, params, ranges, ticks, formats, marginals, contours } = props;
  const n = params.length;
  const xs = ranges.map((d, i) => d3.scaleLinear().domain(d).range([geo.x0 + i * geo.cw, geo.x0 + (i + 1) * geo.cw]));
  const ys = ranges.map((d, i) => d3.scaleLinear().domain(d).range([geo.y0 + (i + 1) * geo.ch, geo.y0 + i * geo.ch]));
  const hs = ranges.map((_, i) => d3.scaleLinear().domain([0, 1]).range([geo.y0 + (i + 1) * geo.ch, geo.y0 + i * geo.ch]));
  const TL = 5;
  const cells: React.ReactNode[] = [];
  for (let r = 0; r < n; r++) {
    for (let c = 0; c <= r; c++) {
      const x0 = geo.x0 + c * geo.cw, y0 = geo.y0 + r * geo.ch;
      const x1 = x0 + geo.cw, y1 = y0 + geo.ch;
      const cid = `${id}-clip-${r}-${c}`;
      const tickLines: React.ReactNode[] = [];
      ticks[c].forEach((t, k) => {
        const x = xs[c](t);
        tickLines.push(<line key={`xb${k}`} x1={x} x2={x} y1={y1} y2={y1 - TL} />);
        if (r !== c) tickLines.push(<line key={`xt${k}`} x1={x} x2={x} y1={y0} y2={y0 + TL} />);
      });
      if (r !== c) {
        ticks[r].forEach((t, k) => {
          const y = ys[r](t);
          tickLines.push(<line key={`yl${k}`} x1={x0} x2={x0 + TL} y1={y} y2={y} />);
          tickLines.push(<line key={`yr${k}`} x1={x1} x2={x1 - TL} y1={y} y2={y} />);
        });
      }
      let body: React.ReactNode;
      if (r === c) {
        const line = d3.line<Pt>().x((p) => xs[c](p[0])).y((p) => hs[r](p[1])).curve(d3.curveMonotoneX);
        body = marginals.filter((m) => m.p === r).map((m, k) => (
          <path key={k} d={line(m.pts) || ""} fill="none" stroke={LIGHT[m.m]} strokeWidth={1.5} />
        ));
      } else {
        const list = contours.filter((q) => q.r === r && q.c === c).sort((a, b) => (b.lv - a.lv) || (a.m - b.m));
        body = list.map((q, k) => (
          <path key={k} d={contourPath(q, xs[c], ys[r])} fill="none" stroke={q.lv === 0 ? DARK[q.m] : LIGHT[q.m]} strokeWidth={1.5} />
        ));
      }
      cells.push(
        <g key={`${r}-${c}`}>
          <clipPath id={cid}><rect x={x0} y={y0} width={geo.cw} height={geo.ch} /></clipPath>
          <g clipPath={`url(#${cid})`}>{body}</g>
          <g stroke={FRAME} strokeWidth={1.2}>{tickLines}</g>
          <rect x={x0} y={y0} width={geo.cw} height={geo.ch} fill="none" stroke={FRAME} strokeWidth={1.6} />
        </g>
      );
    }
  }
  const yb = geo.y0 + n * geo.ch;
  const labels: React.ReactNode[] = [];
  for (let c = 0; c < n; c++) {
    const f = d3.format(formats[c]);
    ticks[c].forEach((t, k) => {
      const x = xs[c](t);
      labels.push(
        <text key={`bx${c}-${k}`} transform={`translate(${x + 3},${yb + 7}) rotate(-45)`} textAnchor="end" dominantBaseline="central" fontSize={9.5} fill="#555" fontFamily={FONT}>{f(t)}</text>
      );
    });
    labels.push(<NameText key={`nx${c}`} name={params[c]} size={16} x={geo.x0 + (c + 0.5) * geo.cw} y={641} textAnchor="middle" fill="#222" />);
  }
  for (let r = 1; r < n; r++) {
    const f = d3.format(formats[r]);
    ticks[r].forEach((t, k) => {
      const y = ys[r](t);
      labels.push(
        <text key={`ly${r}-${k}`} transform={`translate(${geo.x0 - 8},${y - 1}) rotate(-45)`} textAnchor="end" dominantBaseline="central" fontSize={9.5} fill="#555" fontFamily={FONT}>{f(t)}</text>
      );
    });
    const cy = geo.y0 + (r + 0.5) * geo.ch;
    labels.push(<NameText key={`ny${r}`} name={params[r]} size={16} transform={`translate(${geo.ylab + 5},${cy}) rotate(-90)`} textAnchor="middle" fill="#222" />);
  }
  return <g>{cells}{labels}</g>;
}

function Legend() {
  const ys = [20.3, 40.7, 61];
  return (
    <g>
      {MODEL_NAMES.map((name, i) => {
        const runs = modelRuns(name);
        let shift = 0;
        return (
          <g key={name}>
            <line x1={531} x2={578} y1={ys[i]} y2={ys[i]} stroke={DARK[i]} strokeWidth={6} />
            <text x={586} y={ys[i] + 4.5} fontSize={13.5} fill={DARK[i]} fontFamily={FONT}>
              {runs.map((run, k) => {
                const target = run.sub ? 3 : 0;
                const dy = target - shift;
                shift = target;
                return (
                  <tspan key={k} dy={dy} fontSize={run.sub ? 9.5 : 13.5}>{run.t}</tspan>
                );
              })}
            </text>
          </g>
        );
      })}
    </g>
  );
}

const LEFT_GEO: Geo = { x0: 45, y0: 3, cw: 102.67, ch: 100, ylab: 8 };
const RIGHT_GEO: Geo = { x0: 730, y0: 15.7, cw: 86.4, ch: 84.1, ylab: 693 };

export default function App() {
  return (
    <svg width={1354} height={649} style={{ position: "absolute", left: 0, top: 0, background: "#fff" }}>
      <rect width={1354} height={649} fill="#fff" />
      <Corner id="L" geo={LEFT_GEO} params={leftParams} ranges={leftRanges} ticks={leftTicks} formats={leftFormats} marginals={leftMarginals} contours={leftContours} />
      <Corner id="R" geo={RIGHT_GEO} params={rightParams} ranges={rightRanges} ticks={rightTicks} formats={rightFormats} marginals={rightMarginals} contours={rightContours} />
      <Legend />
    </svg>
  );
}
